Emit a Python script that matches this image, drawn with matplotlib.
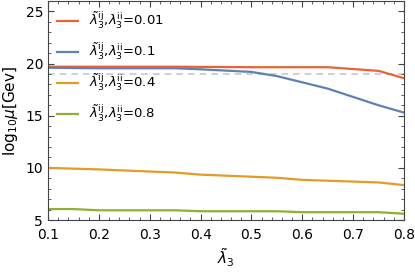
import matplotlib
matplotlib.use("Agg")
import matplotlib.pyplot as plt
from matplotlib.ticker import MultipleLocator

x_red = [0.1, 0.35, 0.5, 0.65, 0.75, 0.8]
y_red = [19.7, 19.7, 19.65, 19.65, 19.3, 18.6]
x_blue = [0.1, 0.2, 0.35, 0.4, 0.5, 0.55, 0.65, 0.75, 0.8]
y_blue = [19.6, 19.55, 19.55, 19.45, 19.2, 18.8, 17.6, 16.0, 15.3]
x_orange = [0.1, 0.2, 0.35, 0.4, 0.55, 0.6, 0.75, 0.8]
y_orange = [10.0, 9.85, 9.55, 9.35, 9.05, 8.85, 8.6, 8.35]
x_green = [0.1, 0.15, 0.2, 0.35, 0.4, 0.55, 0.6, 0.75, 0.8]
y_green = [6.05, 6.05, 5.93, 5.93, 5.84, 5.84, 5.75, 5.75, 5.6]
ref_level = 19.0

labels = [r"$\tilde{\lambda}_3^{\rm ij}$,$\lambda_3^{\rm ii}$=0.01",
          r"$\tilde{\lambda}_3^{\rm ij}$,$\lambda_3^{\rm ii}$=0.1",
          r"$\tilde{\lambda}_3^{\rm ij}$,$\lambda_3^{\rm ii}$=0.4",
          r"$\tilde{\lambda}_3^{\rm ij}$,$\lambda_3^{\rm ii}$=0.8"]
colors = ["#EB6235", "#5E81B5", "#E19C24", "#8FB032"]

plt.rcParams['font.family'] = ['DejaVu Sans']
plt.rcParams['mathtext.fontset'] = 'dejavusans'

fig = plt.figure(figsize=(4.15, 2.72), dpi=100)
ax = fig.add_axes([48/415, 1-220/272, 356/415, 219/272])

ax.plot([0.1, 0.8], [ref_level, ref_level], color="#C8C8C8", lw=1.2, ls=(0, (4, 3)), zorder=1)
for xs, ys, c, lab in zip([x_red, x_blue, x_orange, x_green],
                          [y_red, y_blue, y_orange, y_green], colors, labels):
    ax.plot(xs, ys, color=c, lw=1.6, label=lab, zorder=2)

ax.set_xlim(0.1, 0.8)
ax.set_ylim(5, 26)
ax.xaxis.set_major_locator(MultipleLocator(0.1))
ax.xaxis.set_minor_locator(MultipleLocator(0.02))
ax.yaxis.set_major_locator(MultipleLocator(5))
ax.yaxis.set_minor_locator(MultipleLocator(1))
ax.tick_params(which='both', direction='in', top=True, right=True, labelsize=10, color="#444444")
ax.tick_params(which='major', length=4)
ax.tick_params(which='minor', length=2)
ax.tick_params(axis='x', which='major', pad=6)
ax.set_xticklabels([f"{v:.1f}" for v in ax.get_xticks()])
for s in ax.spines.values():
    s.set_color("#444444")

ax.set_xlabel(r"$\tilde{\lambda}_3$", fontsize=11, labelpad=3)
ax.set_ylabel(r"log$_{10}\mu$[Gev]", fontsize=11)

ax.legend(loc='upper left', frameon=False, fontsize=9.5, handlelength=1.6,
          labelspacing=0.75, bbox_to_anchor=(0.0, 1.0), borderaxespad=0.3)

fig.savefig("out.png", dpi=100)
